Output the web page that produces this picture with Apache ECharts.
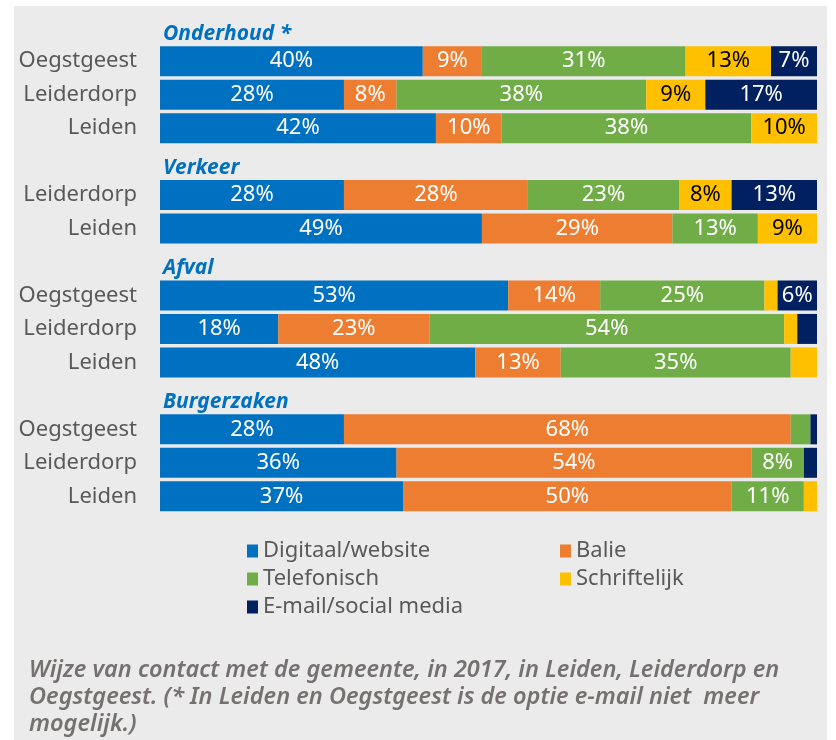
<!DOCTYPE html>
<html>
<head>
<meta charset="utf-8">
<script src="https://cdn.jsdelivr.net/npm/echarts@6/dist/echarts.min.js"></script>
<style>
  html, body { margin: 0; padding: 0; background: #ffffff; }
  #chart { position: absolute; left: 14px; top: 6px; width: 813px; height: 734px; }
</style>
</head>
<body>
<div id="chart"></div>
<script>
// rows top to bottom; header rows carry no bar values
const categories = ['Onderhoud *', 'Oegstgeest', 'Leiderdorp', 'Leiden',
  'Verkeer', 'Leiderdorp', 'Leiden',
  'Afval', 'Oegstgeest', 'Leiderdorp', 'Leiden',
  'Burgerzaken', 'Oegstgeest', 'Leiderdorp', 'Leiden']
const headerRows = [0, 4, 7, 11]

const digitaal = [null, 40, 28, 42, null, 28, 49, null, 53, 18, 48, null, 28, 36, 37]
const balie = [null, 9, 8, 10, null, 28, 29, null, 14, 23, 13, null, 68, 54, 50]
const telefonisch = [null, 31, 38, 38, null, 23, 13, null, 25, 54, 35, null, 3, 8, 11]
const schriftelijk = [null, 13, 9, 10, null, 8, 9, null, 2, 2, 4, null, 0, 0, 2]
const email = [null, 7, 17, 0, null, 13, 0, null, 6, 3, 0, null, 1, 2, 0]

const seriesNames = ['Digitaal/website', 'Balie', 'Telefonisch', 'Schriftelijk', 'E-mail/social media']
const colors = ['#0070c0', '#ed7d31', '#70ad47', '#ffc000', '#002060']
const labelColors = ['#ffffff', '#ffffff', '#ffffff', '#000000', '#ffffff']
const values = [digitaal, balie, telefonisch, schriftelijk, email]

const caption = 'Wijze van contact met de gemeente, in 2017, in Leiden, Leiderdorp en\n' +
  'Oegstgeest. (* In Leiden en Oegstgeest is de optie e-mail niet  meer\n' +
  'mogelijk.)'

const chart = echarts.init(document.getElementById('chart'))

const legendText = { color: '#595959', fontSize: 22, lineHeight: 20 }

const option = {
  backgroundColor: '#ebebeb',
  animation: false,
  textStyle: { fontFamily: 'Noto Sans' },
  title: {
    text: caption,
    left: 10,
    top: 646,
    textStyle: {
      color: '#767171',
      fontSize: 23.5,
      fontStyle: 'italic',
      fontWeight: 600,
      lineHeight: 27
    }
  },
  legend: [
    {
      data: ['Digitaal/website', 'Telefonisch', 'E-mail/social media'],
      orient: 'vertical',
      left: 228,
      top: 529,
      itemWidth: 11,
      itemHeight: 13,
      itemGap: 6,
      icon: 'rect',
      textStyle: legendText
    },
    {
      data: ['Balie', 'Schriftelijk'],
      orient: 'vertical',
      left: 541,
      top: 529,
      itemWidth: 11,
      itemHeight: 13,
      itemGap: 6,
      icon: 'rect',
      textStyle: legendText
    }
  ],
  grid: {
    left: 146,
    right: 10,
    top: 5,
    bottom: 227
  },
  xAxis: {
    type: 'value',
    min: 0,
    max: 100,
    show: false
  },
  yAxis: [
    {
      type: 'category',
      data: categories,
      inverse: true,
      axisLine: { show: false },
      axisTick: { show: false },
      axisLabel: {
        margin: 23,
        color: '#595959',
        fontSize: 22,
        formatter: (v, i) => (headerRows.includes(i) ? '' : v)
      }
    },
    {
      type: 'category',
      data: categories,
      inverse: true,
      position: 'left',
      offset: 0,
      axisLine: { show: false },
      axisTick: { show: false },
      axisLabel: {
        inside: true,
        margin: 3,
        formatter: (v, i) => (headerRows.includes(i) ? '{h|' + v + '}' : ''),
        rich: {
          h: {
            color: '#0070c0',
            fontSize: 21,
            fontWeight: 'bold',
            fontStyle: 'italic',
            padding: [12, 0, 0, 0]
          }
        }
      }
    }
  ],
  series: seriesNames.map((name, k) => ({
    name: name,
    type: 'bar',
    stack: 'total',
    barWidth: 30,
    data: values[k],
    itemStyle: { color: colors[k] },
    label: {
      show: true,
      position: 'inside',
      color: labelColors[k],
      fontSize: 22,
      formatter: (p) => (p.value >= 5 ? p.value + '%' : '')
    }
  }))
}

chart.setOption(option)
</script>
</body>
</html>
